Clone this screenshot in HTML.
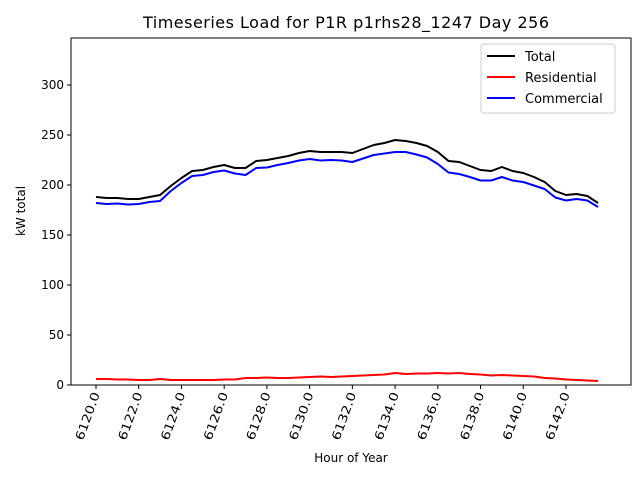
<!DOCTYPE html>
<html><head><meta charset="utf-8"><style>
body{margin:0;background:#fff;}
svg{display:block;font-family:"DejaVu Sans","Liberation Sans",sans-serif;}
</style></head><body>
<svg id="chart" width="640" height="480">
<rect width="640" height="480" fill="#fff"/>
<text x="346" y="28" font-size="16" text-anchor="middle" textLength="406" lengthAdjust="spacing">Timeseries Load for P1R p1rhs28_1247  Day 256</text>
<g id="plot"></g>
<text x="351" y="462" font-size="12" text-anchor="middle">Hour of Year</text>
<text transform="translate(25,211) rotate(-90)" font-size="12" text-anchor="middle">kW total</text>
</svg>
<script>
const hours = [6120,6120.5,6121,6121.5,6122,6122.5,6123,6123.5,6124,6124.5,6125,6125.5,6126,6126.5,6127,6127.5,6128,6128.5,6129,6129.5,6130,6130.5,6131,6131.5,6132,6132.5,6133,6133.5,6134,6134.5,6135,6135.5,6136,6136.5,6137,6137.5,6138,6138.5,6139,6139.5,6140,6140.5,6141,6141.5,6142,6142.5,6143,6143.5];
const total = [188,187,187,186,186,188,190,199,207,214,215,218,220,217,217,224,225,227,229,232,234,233,233,233,232,236,240,242,245,244,242,239,233,224,223,219,215,214,218,214,212,208,203,194,190,191,189,182];
const residential = [6,6,5.5,5.5,5,5,6,5,5,5,5,5,5.5,5.5,7,7,7.5,7,7,7.5,8,8.5,8,8.5,9,9.5,10,10.5,12,11,11.5,11.5,12,11.5,12,11,10.5,9.5,10,9.5,9,8.5,7,6.5,5.5,5,4.5,4];
const commercial = [182,181,181.5,180.5,181,183,184,194,202,209,210,213,214.5,211.5,210,217,217.5,220,222,224.5,226,224.5,225,224.5,223,226.5,230,231.5,233,233,230.5,227.5,221,212.5,211,208,204.5,204.5,208,204.5,203,199.5,196,187.5,184.5,186,184.5,178];
const xTicks = [6120,6122,6124,6126,6128,6130,6132,6134,6136,6138,6140,6142];
const yTicks = [0,50,100,150,200,250,300];

const NS="http://www.w3.org/2000/svg";
const L=71,R=631,T=38,B=385;
const xS=h=>96+(h-6120)*(470/22);
const yS=v=>385-v*1.0;
const g=document.getElementById('plot');
function mk(t,a){const e=document.createElementNS(NS,t);for(const k in a)e.setAttribute(k,a[k]);return e;}

yTicks.forEach(v=>{
  const y=yS(v);
  const tk=mk('line',{x1:L-4,x2:L,y1:y,y2:y,stroke:'#000','stroke-width':1});
  
  
  g.appendChild(tk);
  const t=mk('text',{x:L-7,y:y+4,'font-size':12,'text-anchor':'end'});
  t.textContent=v;
  
  
  g.appendChild(t);
});
xTicks.forEach(h=>{
  const x=xS(h);
  const tk=mk('line',{x1:x,x2:x,y1:B,y2:B+4,stroke:'#000','stroke-width':1});
  
  
  g.appendChild(tk);
  const t=mk('text',{transform:`translate(${x+4},${B+9}) rotate(-70)`,'font-size':12,'text-anchor':'end','textLength':50,'lengthAdjust':'spacingAndGlyphs'});
  t.textContent=h.toFixed(1);
  
  
  g.appendChild(t);
});
const series=[[total,'#000','total-line'],[residential,'#f00','residential-line'],[commercial,'#00f','commercial-line']];
series.forEach(([vals,c,n])=>{
  const p=mk('polyline',{points:vals.map((v,i)=>xS(hours[i])+','+yS(v)).join(' '),fill:'none',stroke:c,'stroke-width':2,'stroke-linejoin':'round'});
  
  
  g.appendChild(p);
});
const fr=mk('rect',{x:L,y:T,width:R-L,height:B-T,fill:'none',stroke:'#000','stroke-width':1});


g.appendChild(fr);
const lg=mk('g',{});


lg.appendChild(mk('rect',{x:481,y:44,width:134,height:69,fill:'#fff',stroke:'#ccc',rx:3}));
[['Total','#000'],['Residential','#f00'],['Commercial','#00f']].forEach(([lab,c],i)=>{
  const y=56+i*21;
  const ent=mk('g',{});
  
  
  ent.appendChild(mk('line',{x1:487,x2:515,y1:y,y2:y,stroke:c,'stroke-width':2}));
  const t=mk('text',{x:525,y:y+5,'font-size':13});
  t.textContent=lab;
  ent.appendChild(t);
  lg.appendChild(ent);
});
g.appendChild(lg);
</script>
</body></html>
